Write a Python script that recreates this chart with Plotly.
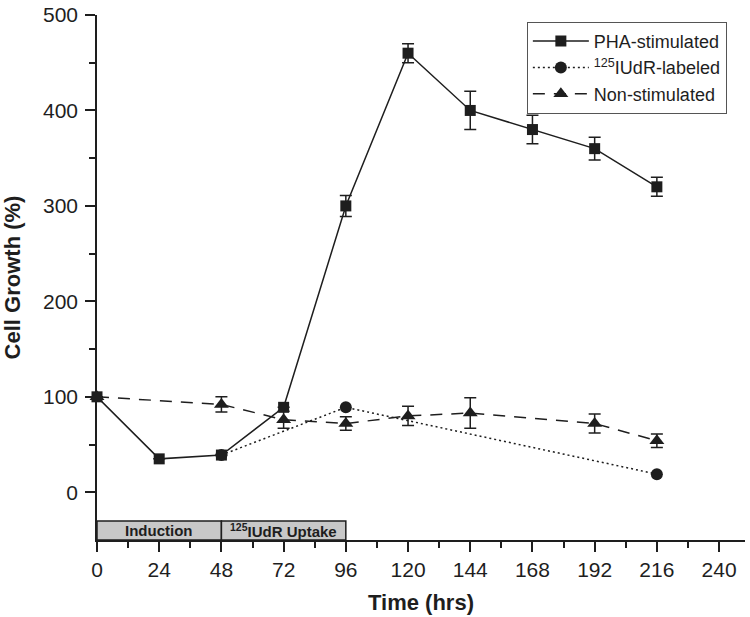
import plotly.graph_objects as go

# ---- data ----
pha_x = [0, 24, 48, 72, 96, 120, 144, 168, 192, 216]
pha_y = [100, 35, 39, 89, 300, 460, 400, 380, 360, 320]
pha_err = [0, 0, 0, 0, 11, 10, 20, 15, 12, 10]

iudr_x = [48, 96, 216]
iudr_y = [39, 89, 19]

non_x = [0, 48, 72, 96, 120, 144, 192, 216]
non_y = [100, 92, 76, 72, 80, 83, 72, 54]
non_err = [0, 8, 9, 7, 10, 16, 10, 7]

x_ticks = [0, 24, 48, 72, 96, 120, 144, 168, 192, 216, 240]
y_ticks = [0, 100, 200, 300, 400, 500]

phase_labels = ["<b>Induction</b>", "<b><sup>125</sup>IUdR Uptake</b>"]
phase_start = [0, 48]
phase_end = [48, 96]
phase_low, phase_high = -50, -30

INK = "#1e1e1e"
FONT = "Liberation Sans, Arial, sans-serif"

fig = go.Figure()

fig.add_trace(go.Scatter(
    x=pha_x, y=pha_y, name="PHA-stimulated", mode="lines+markers",
    line=dict(color=INK, width=1.5),
    marker=dict(symbol="square", size=11, color=INK),
    error_y=dict(type="data", array=pha_err, color=INK, thickness=1.5, width=6),
    cliponaxis=False))

fig.add_trace(go.Scatter(
    x=iudr_x, y=iudr_y, name="<sup>125</sup>IUdR-labeled", mode="lines+markers",
    line=dict(color=INK, width=1.5, dash="2px,3px"),
    marker=dict(symbol="circle", size=12, color=INK),
    cliponaxis=False))

fig.add_trace(go.Scatter(
    x=non_x, y=non_y, name="Non-stimulated", mode="lines+markers",
    line=dict(color=INK, width=1.5, dash="12px,9px"),
    marker=dict(symbol="triangle-up", size=13, color=INK),
    error_y=dict(type="data", array=non_err, color=INK, thickness=1.5, width=6),
    cliponaxis=False))

for lab, s, e in zip(phase_labels, phase_start, phase_end):
    fig.add_shape(type="rect", xref="x", yref="y", x0=s, x1=e,
                  y0=phase_low, y1=phase_high,
                  fillcolor="#c8c8c8", line=dict(color=INK, width=1.5),
                  layer="below")
    fig.add_annotation(x=(s + e) / 2, y=(phase_low + phase_high) / 2,
                       xref="x", yref="y", text=lab, showarrow=False,
                       font=dict(family=FONT, size=15, color=INK))

fig.update_layout(
    width=750, height=617,
    margin=dict(l=97, r=5, t=15, b=77),
    paper_bgcolor="white", plot_bgcolor="white",
    font=dict(family=FONT, color=INK),
    showlegend=True,
    legend=dict(x=0.972, y=0.987, xanchor="right", yanchor="top",
                bordercolor="#555", borderwidth=1, bgcolor="white",
                font=dict(size=18, family=FONT, color=INK),
                tracegroupgap=0, itemwidth=56),
    xaxis=dict(range=[0, 250], tickmode="array", tickvals=x_ticks,
               automargin=False, ticklabeloverflow="allow",
               ticks="outside", ticklen=10, tickwidth=1.5, tickcolor=INK,
               showline=True, linecolor=INK, linewidth=1.5,
               showgrid=False, zeroline=False,
               tickfont=dict(size=21, family=FONT, color=INK),
               minor=dict(tickmode="array", tickvals=[12, 36, 60, 84, 108, 132, 156, 180, 204, 228],
                          ticks="outside", ticklen=6, tickwidth=1.5, tickcolor=INK),
               title=dict(text="<b>Time (hrs)</b>", font=dict(size=22, family=FONT, color=INK), standoff=15)),
    yaxis=dict(range=[-50, 500], tickmode="array", tickvals=y_ticks,
               automargin=False, ticklabelstandoff=3, ticklabeloverflow="allow",
               ticks="outside", ticklen=10, tickwidth=1.5, tickcolor=INK,
               showline=True, linecolor=INK, linewidth=1.5,
               showgrid=False, zeroline=False,
               tickfont=dict(size=21, family=FONT, color=INK),
               minor=dict(tickmode="array", tickvals=[50, 150, 250, 350, 450],
                          ticks="outside", ticklen=6, tickwidth=1.5, tickcolor=INK),
               title=dict(text="<b>Cell Growth (%)</b>", font=dict(size=22, family=FONT, color=INK), standoff=23)),
)

# remove the browser's default 8px body margin so the figure fills the window
fig.write_html("out.html", config={"displayModeBar": False},
               post_script="document.body.style.margin='0px';")
